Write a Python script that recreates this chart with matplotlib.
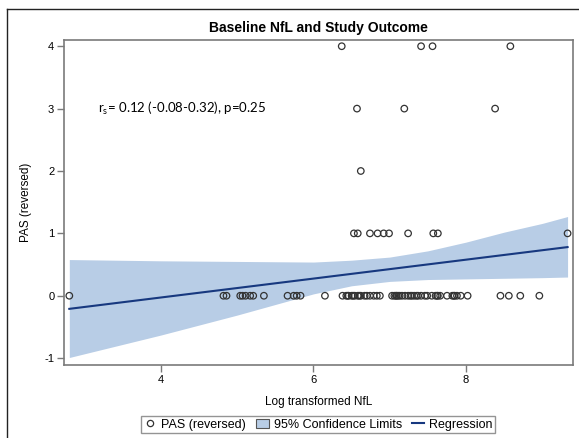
import matplotlib
matplotlib.use("Agg")
import matplotlib.pyplot as plt
from matplotlib.lines import Line2D
from matplotlib.patches import Patch
import numpy as np

plt.rcParams['font.family'] = ['Liberation Sans', 'DejaVu Sans']
plt.rcParams['axes.unicode_minus'] = False

# PAS (reversed) scores against log transformed NfL
nfl_0 = [2.80, 4.82, 4.86, 5.04, 5.07, 5.11, 5.17, 5.21, 5.35, 5.66, 5.74,
         5.78, 5.83, 6.15, 6.38, 6.43, 6.45, 6.46, 6.50, 6.52, 6.54, 6.58,
         6.60, 6.62, 6.67, 6.70, 6.74, 6.79, 6.83, 6.87, 7.03, 7.06, 7.08,
         7.09, 7.11, 7.13, 7.16, 7.20, 7.24, 7.27, 7.29, 7.32, 7.35, 7.37,
         7.41, 7.46, 7.49, 7.55, 7.60, 7.62, 7.63, 7.66, 7.75, 7.82, 7.84,
         7.85, 7.88, 7.93, 8.02, 8.45, 8.56, 8.71, 8.96]
nfl_1 = [6.53, 6.58, 6.74, 6.84, 6.92, 6.99, 7.24, 7.57, 7.63, 9.33]
nfl_2 = [6.62]
nfl_3 = [6.57, 7.19, 8.38]
nfl_4 = [6.37, 7.41, 7.56, 8.58]

# regression line end points and 95% confidence band
reg_x = [2.80, 9.33]
reg_y = [-0.21, 0.78]
band_x = [2.8, 4.0, 5.0, 6.0, 6.5, 7.0, 7.5, 8.0, 8.5, 9.0, 9.33]
band_hi = [0.58, 0.56, 0.55, 0.54, 0.57, 0.62, 0.72, 0.86, 1.02, 1.16, 1.27]
band_lo = [-0.99, -0.63, -0.31, 0.03, 0.16, 0.23, 0.26, 0.27, 0.28, 0.29, 0.30]

x_ticks = [4, 6, 8]
y_ticks = [-1, 0, 1, 2, 3, 4]

pts_x = nfl_0 + nfl_1 + nfl_2 + nfl_3 + nfl_4
pts_y = ([0] * len(nfl_0) + [1] * len(nfl_1) + [2] * len(nfl_2)
         + [3] * len(nfl_3) + [4] * len(nfl_4))

band_col = '#b8cde6'
line_col = '#17387f'
frame_col = '#7a7a7a'

fig = plt.figure(figsize=(5.79, 4.38), dpi=100)
ax = fig.add_axes([0.1105, 0.1667, 0.879, 0.742])

ax.fill_between(band_x, band_lo, band_hi, color=band_col, lw=0, zorder=1)
ax.plot(reg_x, reg_y, color=line_col, lw=1.5, zorder=2)
ax.scatter(pts_x, pts_y, s=22, facecolors='none', edgecolors='#333333',
           linewidths=0.9, zorder=3)

ax.set_xlim(2.73, 9.40)
ax.set_ylim(-1.11, 4.10)
ax.set_xticks(x_ticks)
ax.set_yticks(y_ticks)
ax.tick_params(direction='out', length=5, width=1, color=frame_col,
               labelsize=8, pad=2)
for s in ax.spines.values():
    s.set_color(frame_col)
    s.set_linewidth(1.2)

ax.set_xlabel('Log transformed NfL', fontsize=8.5, labelpad=8)
ax.set_ylabel('PAS (reversed)', fontsize=8.5, labelpad=9)
ax.set_title('Baseline NfL and Study Outcome', fontsize=10,
             fontweight='bold', pad=6)

ax.text(3.17, 3.0, r'r$\mathregular{_s}$= 0.12 (-0.08-0.32), p=0.25',
        fontsize=9.5, family=['Lato', 'DejaVu Sans'], va='center', ha='left')

handles = [
    Line2D([], [], marker='o', ls='none', markerfacecolor='none',
           markeredgecolor='#333333', markersize=4.5, markeredgewidth=0.9),
    Patch(facecolor=band_col, edgecolor='#555555', linewidth=0.8),
    Line2D([], [], color=line_col, lw=1.5),
]
labels = ['PAS (reversed)', '95% Confidence Limits', 'Regression']
leg = fig.legend(handles, labels, loc='center', bbox_to_anchor=(0.55, 0.030),
                 ncol=3, fontsize=9, frameon=True, fancybox=False,
                 edgecolor=frame_col, handlelength=1.0, handletextpad=0.4,
                 columnspacing=0.8, borderpad=0.2, handleheight=0.7)
leg.get_frame().set_linewidth(1.0)

# outer frame around the whole graph
fig.add_artist(Line2D([7 / 579, 1.0], [1 - 9 / 438, 1 - 9 / 438],
                      transform=fig.transFigure, color='#222222', lw=1.0))
fig.add_artist(Line2D([7 / 579, 7 / 579], [0.0, 1 - 9 / 438],
                      transform=fig.transFigure, color='#222222', lw=1.0))

fig.savefig('out.png', dpi=100)
